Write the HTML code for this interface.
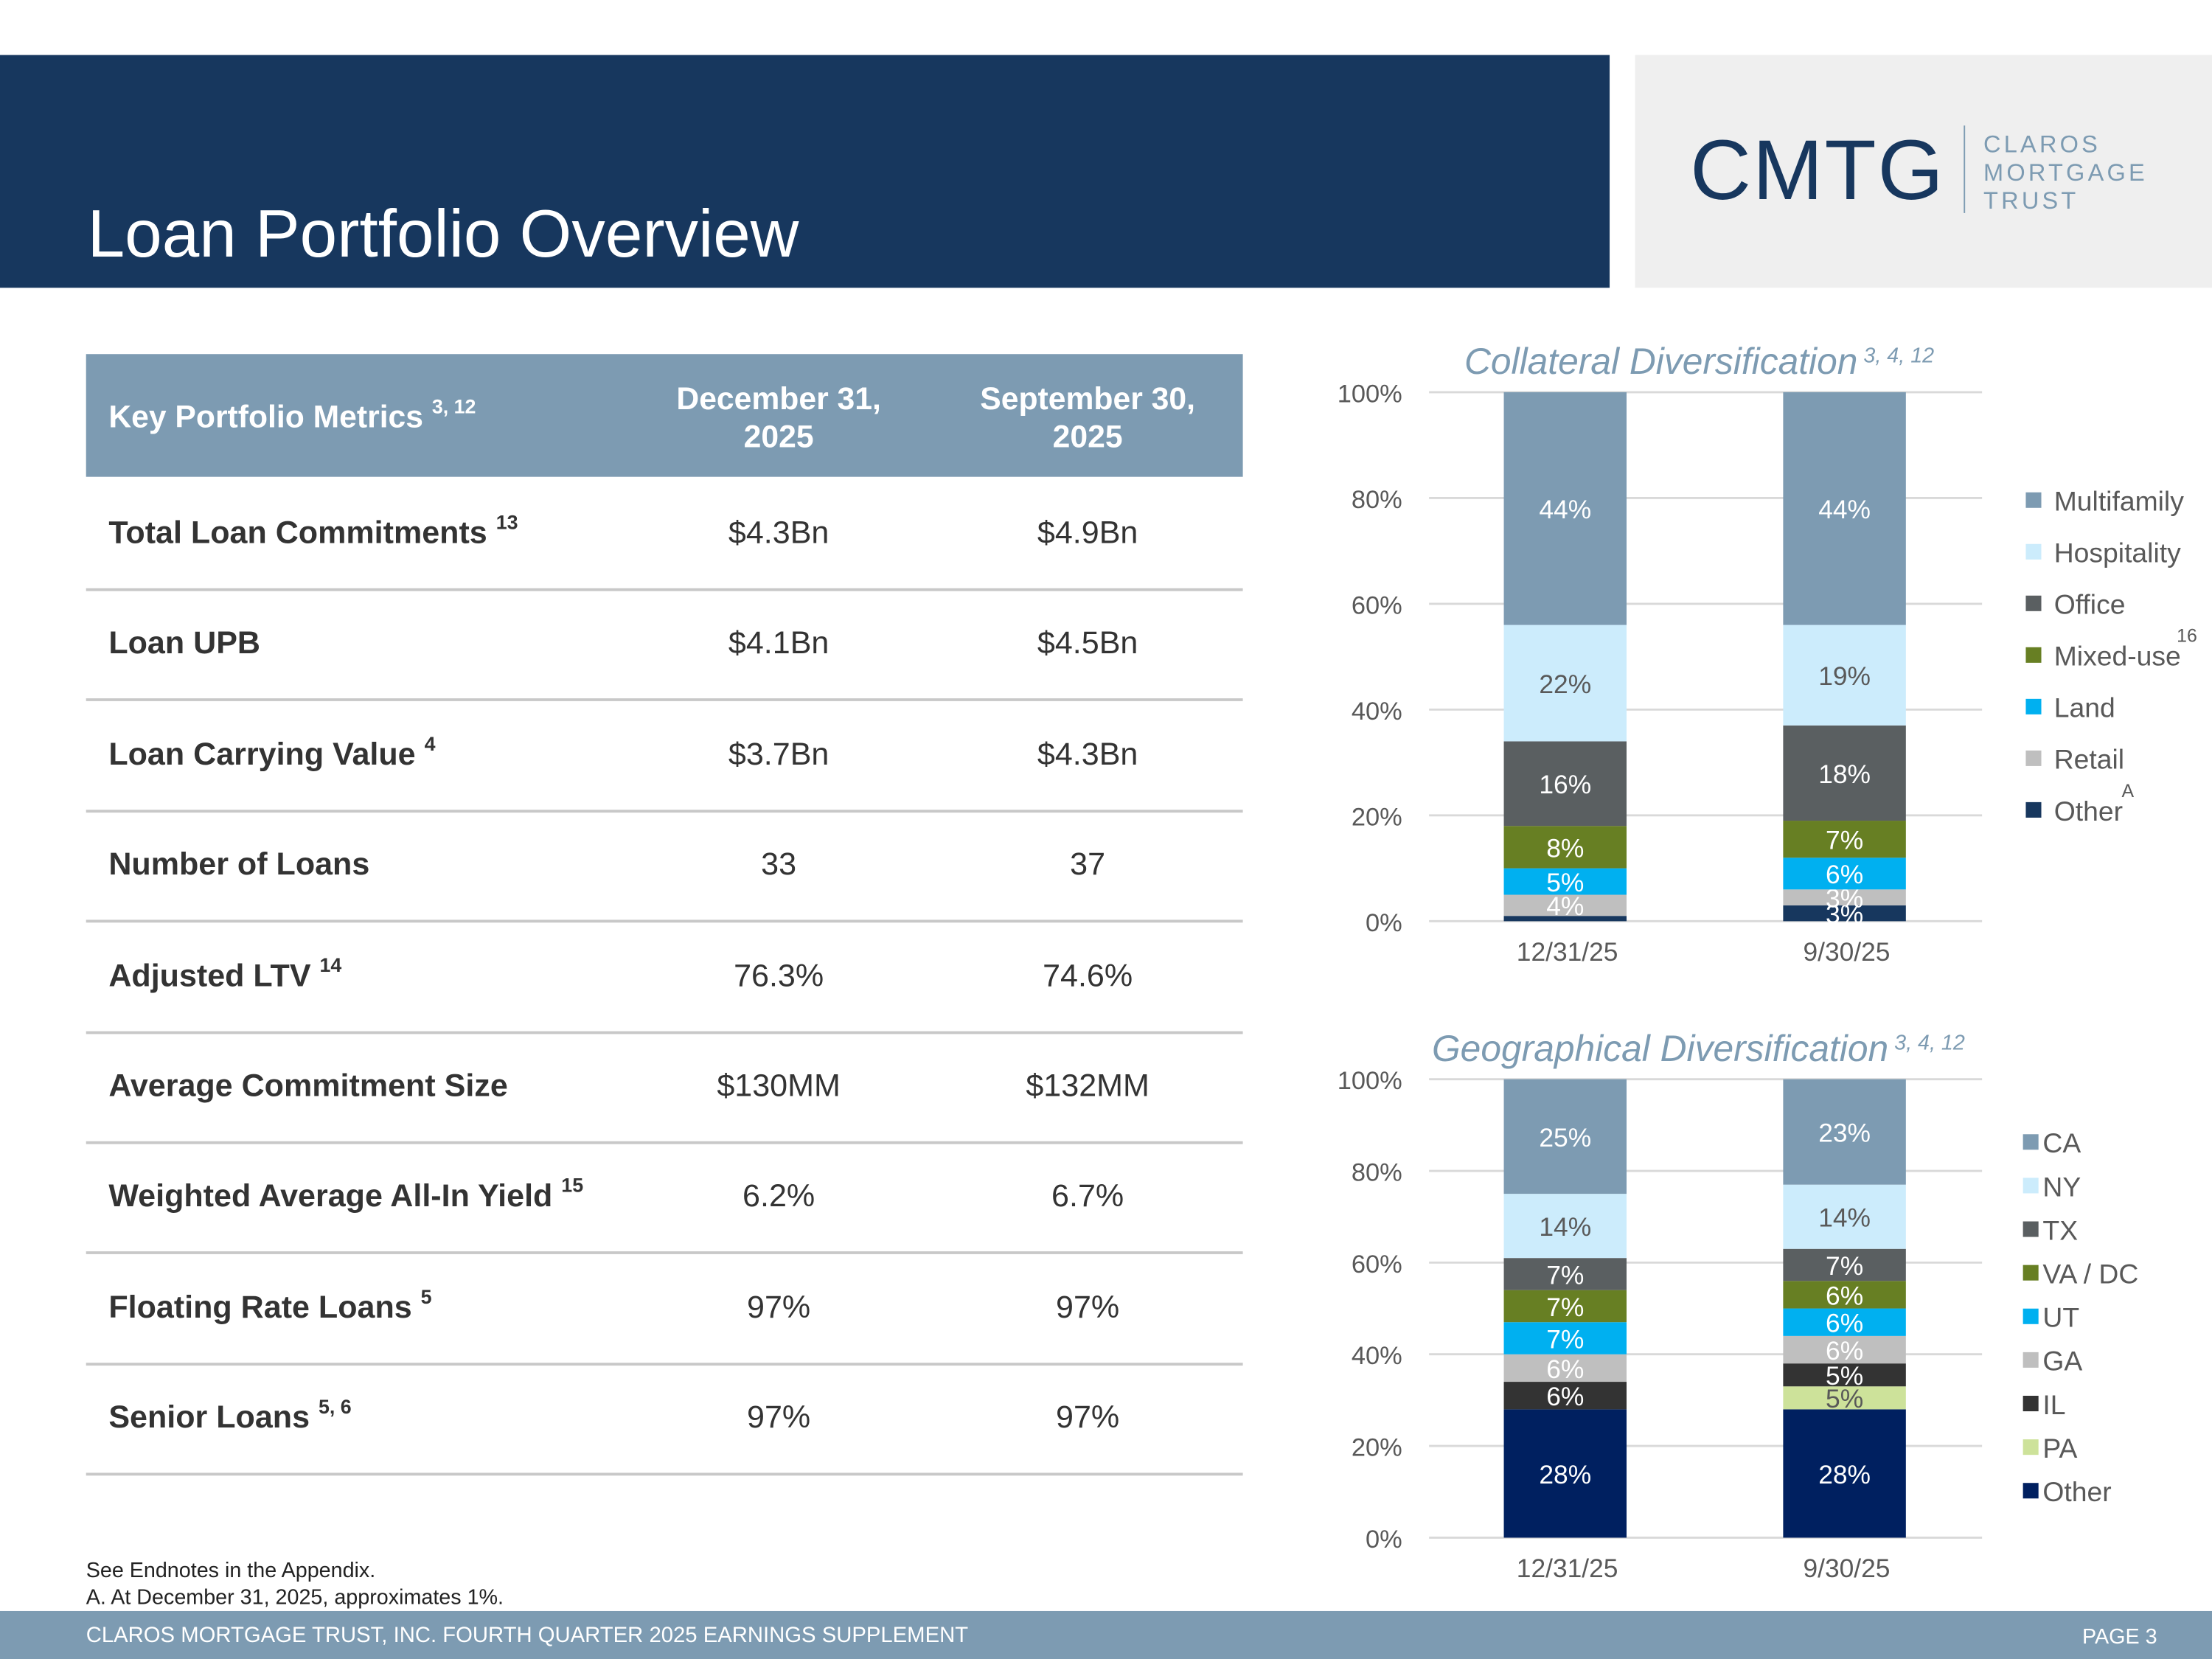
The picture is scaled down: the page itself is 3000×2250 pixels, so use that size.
<!DOCTYPE html>
<html><head><meta charset="utf-8"><style>
html,body{margin:0;padding:0;width:3000px;height:2250px;overflow:hidden;background:#fff}
#wrap{position:absolute;left:0;top:0;width:1568px;height:1176px;transform:scale(1.91327);transform-origin:0 0;font-family:"Liberation Sans",sans-serif;color:#333}
.abs{position:absolute}
.row{position:absolute;left:61px;width:820px;height:78px;border-bottom:2px solid #c8c8c8;font-size:22.5px}
.row .l{position:absolute;left:16px;top:0;line-height:78px;font-weight:bold;color:#333;white-space:nowrap}
.row .a,.row .b{position:absolute;top:0;line-height:78px;width:200px;text-align:center;color:#333;font-size:22.5px}
.row .a{left:391px}.row .b{left:610px}
sup{font-size:14px;vertical-align:baseline;position:relative;top:-10px;line-height:0}
</style></head><body>
<div id="wrap">
 <div class="abs" style="left:0;top:39px;width:1141px;height:165px;background:#17375e"></div>
 <div class="abs" style="left:62px;top:139px;font-size:47.5px;color:#fff">Loan Portfolio Overview</div>
 <div class="abs" style="left:1159px;top:39px;width:409px;height:165px;background:#efefef"></div>
 <div class="abs" style="left:1198px;top:86px;font-size:60px;color:#17375e;letter-spacing:1px">CMTG</div>
 <div class="abs" style="left:1392px;top:89px;width:1px;height:62px;background:#7d9bb2"></div>
 <div class="abs" style="left:1406px;top:93px;font-size:17px;line-height:20px;color:#7d9bb2;letter-spacing:2.2px">CLAROS<br>MORTGAGE<br>TRUST</div>

 <div class="abs" style="left:61px;top:251px;width:820px;height:87px;background:#7d9bb2;color:#fff;font-weight:bold;font-size:22.3px">
  <div class="abs" style="left:16px;top:32px">Key Portfolio Metrics <sup>3, 12</sup></div>
  <div class="abs" style="left:381px;top:18px;width:220px;text-align:center;line-height:27px">December 31,<br>2025</div>
  <div class="abs" style="left:600px;top:18px;width:220px;text-align:center;line-height:27px">September 30,<br>2025</div>
 </div>
 <div id="rows"></div>

 <div class="abs" style="left:61px;top:1104px;font-size:15px;line-height:19px;color:#222">See Endnotes in the Appendix.<br>A. At December 31, 2025, approximates 1%.</div>
 <div class="abs" style="left:0;top:1142px;width:1568px;height:34px;background:#7d9bb2"></div>
 <div class="abs" style="left:61px;top:1151px;font-size:15.3px;color:#fff">CLAROS MORTGAGE TRUST, INC. FOURTH QUARTER 2025 EARNINGS SUPPLEMENT</div>
 <div class="abs" style="left:1476px;top:1152px;font-size:15px;color:#fff">PAGE 3</div>

 <svg id="charts" class="abs" style="left:0;top:0" width="1568" height="1176"></svg>
</div>
<script>
const rowLabels=[["Total Loan Commitments","13"],["Loan UPB",""],["Loan Carrying Value","4"],["Number of Loans",""],["Adjusted LTV","14"],["Average Commitment Size",""],["Weighted Average All-In Yield","15"],["Floating Rate Loans","5"],["Senior Loans","5, 6"]];
const colDec=["$4.3Bn","$4.1Bn","$3.7Bn","33","76.3%","$130MM","6.2%","97%","97%"];
const colSep=["$4.9Bn","$4.5Bn","$4.3Bn","37","74.6%","$132MM","6.7%","97%","97%"];
const rowsEl=document.getElementById('rows');
rowLabels.forEach((r,i)=>{
 const d=document.createElement('div');d.className='row';d.style.top=(339+i*78.4)+'px';
 
 
 d.innerHTML='<div class="l">'+r[0]+(r[1]?' <sup>'+r[1]+'</sup>':'')+'</div><div class="a">'+colDec[i]+'</div><div class="b">'+colSep[i]+'</div>';
 rowsEl.appendChild(d);
});

const periods=["12/31/25","9/30/25"];
const collCats=["Other","Retail","Land","Mixed-use","Office","Hospitality","Multifamily"];
const collDec=[1,4,5,8,16,22,44];
const collSep=[3,3,6,7,18,19,44];
const geoCats=["Other","PA","IL","GA","UT","VA / DC","TX","NY","CA"];
const geoDec=[28,0,6,6,7,7,7,14,25];
const geoSep=[28,5,5,6,6,6,7,14,23];
const yTicks=[0,20,40,60,80,100];

const collColors=["#17375e","#bfbfbf","#00b0f0","#677f23","#5a5f61","#ccecfc","#7d9bb2"];
const collText=["#fff","#fff","#fff","#fff","#fff","#595959","#fff"];
const geoColors=["#002060","#cde29a","#333333","#bfbfbf","#00b0f0","#677f23","#5a5f61","#ccecfc","#7d9bb2"];
const geoText=["#fff","#595959","#fff","#fff","#fff","#fff","#fff","#595959","#fff"];
const svg=document.getElementById('charts');const NS="http://www.w3.org/2000/svg";
function el(t,a,p){const e=document.createElementNS(NS,t);for(const k in a)e.setAttribute(k,a[k]);(p||svg).appendChild(e);return e;}

function chart(name,y0,y1,bars,cats,colors,tcol,title,legY,legStep,legX,legSup){
 const g=el('g',{});
 
 
 const yS=v=>y0-(y0-y1)*v/100;
 yTicks.forEach(t=>{
  const l=el('line',{x1:1013,x2:1405,y1:yS(t),y2:yS(t),stroke:'#d9d9d9','stroke-width':1.5},g);
  
  
  const tx=el('text',{x:994,y:yS(t)+7,'text-anchor':'end','font-size':18,fill:'#595959'},g);tx.textContent=t+'%';
  
  
 });
 const bx=[1066,1264];
 bars.forEach((vals,bi)=>{
  let acc=0;
  vals.forEach((v,ci)=>{
   const top=yS(acc+v),bot=yS(acc);acc+=v;
   if(v<=0)return;
   const r=el('rect',{x:bx[bi],y:top,width:87,height:bot-top,fill:colors[ci]},g);
   
   
   if(v>=3){const t=el('text',{x:bx[bi]+43.5,y:(top+bot)/2+7,'text-anchor':'middle','font-size':18.5,fill:tcol[ci]},g);t.textContent=v+'%';
    
    }
  });
  const xl=el('text',{x:bx[bi]+45,y:y0+28,'text-anchor':'middle','font-size':18.5,fill:'#595959'},g);xl.textContent=periods[bi];
  
  
 });
 const tt=el('text',{x:title[1],y:y1-13,'font-size':26,'font-style':'italic',fill:'#7d9bb2'},g);
 tt.innerHTML=title[0]+'<tspan font-size="15" dy="-8"> 3, 4, 12</tspan>';
 
 
 for(let i=cats.length-1,k=0;i>=0;i--,k++){
  const y=legY+k*legStep;
  const s=el('rect',{x:legX,y:y-6,width:11,height:11,fill:colors[i]},g);
  
  
  const t=el('text',{x:legX+(legSup?20:14),y:y+7,'font-size':19.5,fill:'#595959'},g);t.textContent=cats[i];
  
  
 }
}
chart('collateral-chart',653,278,[collDec,collSep],collCats,collColors,collText,['Collateral Diversification',1038],355,36.6,1436,true);
chart('geographical-chart',1090,765,[geoDec,geoSep],geoCats,geoColors,geoText,['Geographical Diversification',1015],810,30.9,1434,false);
[['16',1543,455],['A',1504,565]].forEach(a=>{const t=el('text',{x:a[1],y:a[2],'font-size':13,fill:'#595959'});t.textContent=a[0];
 
 });
</script>
</body></html>
